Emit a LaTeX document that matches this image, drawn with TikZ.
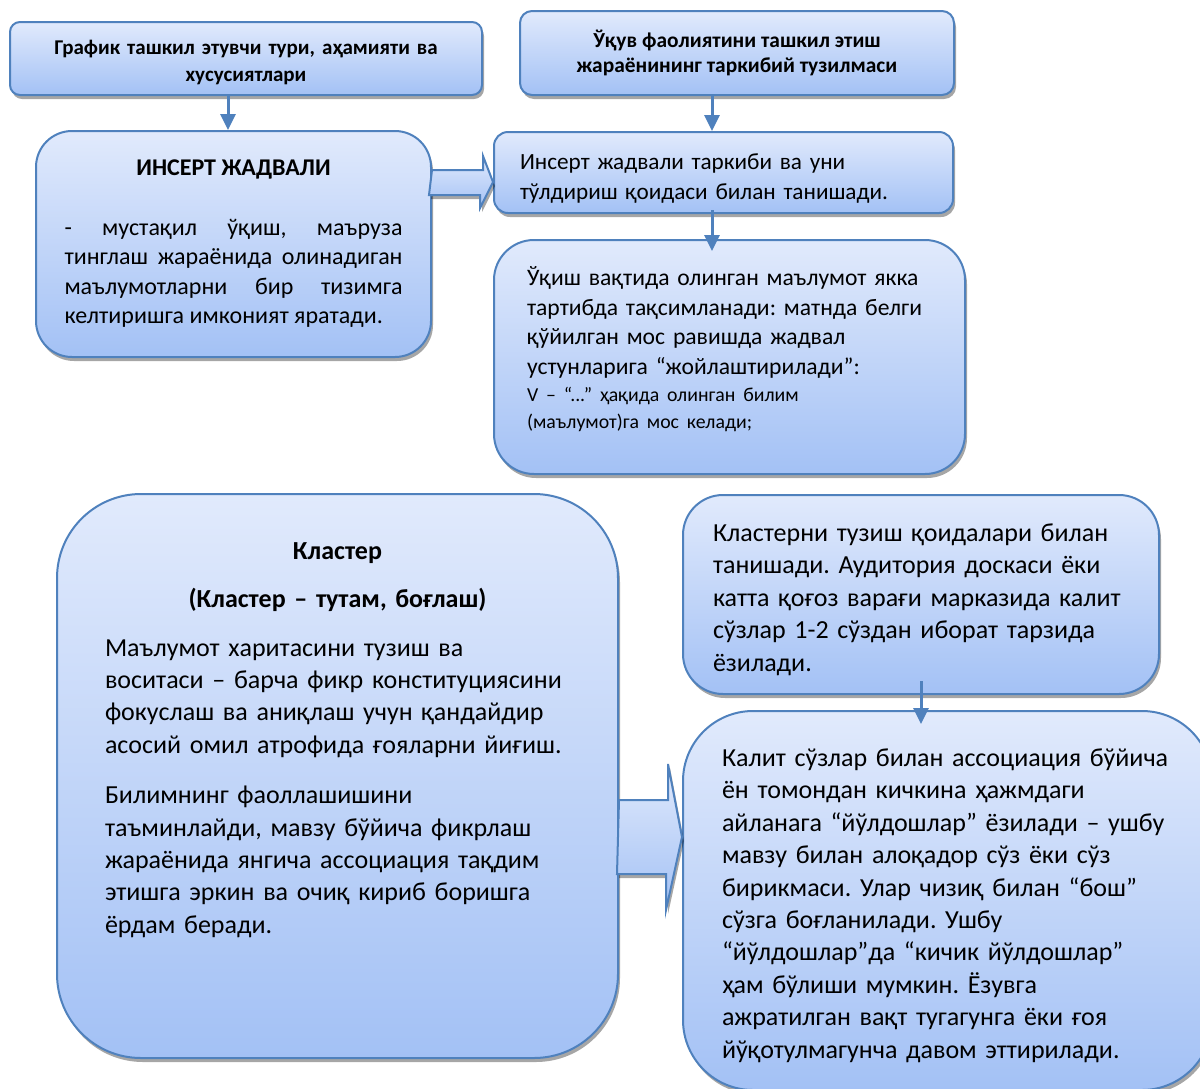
\documentclass[tikz,border=0pt]{standalone}
\usepackage{fontspec}
\setmainfont{Carlito}
\usetikzlibrary{shadows,arrows.meta,calc}
\definecolor{boxline}{RGB}{79,129,189}
\definecolor{boxtop}{RGB}{225,234,252}
\definecolor{boxbot}{RGB}{163,193,245}
\setlength{\parindent}{0pt}
\hyphenpenalty=10000
\exhyphenpenalty=10000
\frenchspacing
% extra (or less) room under the text of a box
\newcommand{\botpad}[1]{\par\vspace{#1}\nointerlineskip\null}
\tikzset{
    box/.style={draw=boxline,line width=1pt,top color=boxtop,bottom color=boxbot,
        inner sep=0pt,drop shadow={shadow xshift=1pt,shadow yshift=-2pt,opacity=.35,fill=black}},
    arr/.style={draw=boxline,line width=1.5pt,-{Triangle[width=7.5pt,length=8pt]}},
    barr/.style={draw=boxline,line width=1pt,top color=boxtop,bottom color=boxbot,
        drop shadow={shadow xshift=1pt,shadow yshift=-2pt,opacity=.35,fill=black}}
}
\begin{document}
\begin{tikzpicture}[x=0.5pt,y=-0.5pt]
    \useasboundingbox (0,0) rectangle (1200,1088);
    \coordinate (c1) at (228,0);
    \coordinate (c2) at (712,0);

    \node[box,rounded corners=5pt,minimum width=236pt,minimum height=36.5pt,text width=230pt,align=center,
        font=\fontsize{10.5}{13.5}\selectfont\bfseries] (topl) at (246,58.5)
        {График ташкил этувчи тури, аҳамияти ва\\хусусиятлари\botpad{-4pt}};
    \node[box,rounded corners=6pt,minimum width=217pt,minimum height=42pt,align=center,
        font=\fontsize{10.7}{12.5}\selectfont\bfseries] (topr) at (737,53)
        {Ўқув фаолиятини ташкил этиш\\жараёнининг таркибий тузилмаси};
    \node[box,rounded corners=18pt,minimum width=197.5pt,minimum height=113pt,text width=169pt,
        align=justify,font=\fontsize{12}{14.75}\selectfont] (ins) at (233.5,244)
        {{\centering\bfseries ИНСЕРТ ЖАДВАЛИ\par}\vspace{15pt}
        - мустақил ўқиш, маъруза\linebreak тинглаш жараёнида олинадиган\linebreak
        маълумотларни бир тизимга\linebreak келтиришга имконият яратади.\par};
    \node[box,rounded corners=7pt,minimum width=229.5pt,minimum height=40.5pt,text width=203.5pt,
        font=\fontsize{11.6}{15}\selectfont] (ict) at (723.5,172.5)
        {Инсерт жадвали таркиби ва уни\\тўлдириш қоидаси билан танишади.\botpad{-6pt}};
    \node[box,rounded corners=20pt,minimum width=235.5pt,minimum height=117pt,text width=202.5pt,
        font=\fontsize{11.8}{14.75}\selectfont] (uqish) at (729.5,357)
        {Ўқиш вақтида олинган маълумот якка\\тартибда тақсимланади: матнда белги\\
        қўйилган мос равишда жадвал\\устунларига “жойлаштирилади”:\par
        {\fontsize{9.9}{13.5}\selectfont V – “...” ҳақида олинган билим\\(маълумот)га мос келади;\par}
        \botpad{8pt}};
    \node[box,rounded corners=42pt,minimum width=280.5pt,minimum height=282pt,text width=232.5pt,
        font=\fontsize{13}{16.2}\selectfont] (klas) at (337.5,776)
        {{\centering\bfseries Кластер\par\vspace{8pt}
        (Кластер – тутам, боғлаш)\par}\vspace{8pt}
        Маълумот харитасини тузиш ва\\воситаси – барча фикр конституциясини\\
        фокуслаш ва аниқлаш учун қандайдир\\асосий омил атрофида ғояларни йиғиш.\par
        \vspace{9pt}
        Билимнинг фаоллашишини\\таъминлайди, мавзу бўйича фикрлаш\\
        жараёнида янгича ассоциация тақдим\\этишга эркин ва очиқ кириб боришга\\
        ёрдам беради.\botpad{36pt}};
    \node[box,rounded corners=20pt,minimum width=238pt,minimum height=99.5pt,text width=208pt,
        font=\fontsize{13}{16.2}\selectfont] (klrule) at (921,594.5)
        {Кластерни тузиш қоидалари билан\\танишади. Аудитория доскаси ёки\\
        катта қоғоз варағи марказида калит\\сўзлар 1-2 сўздан иборат тарзида\\ёзилади.\botpad{-5pt}};
    \node[box,rounded corners=35pt,minimum width=264.5pt,minimum height=189.5pt,text width=225.5pt,
        font=\fontsize{13}{16.2}\selectfont] (kalit) at (947.5,900.5)
        {Калит сўзлар билан ассоциация бўйича\\ён томондан кичкина ҳажмдаги\\
        айланага “йўлдошлар” ёзилади – ушбу\\мавзу билан алоқадор сўз ёки сўз\\
        бирикмаси. Улар чизиқ билан “бош”\\сўзга боғланилади. Ушбу\\
        “йўлдошлар”да “кичик йўлдошлар”\\ҳам бўлиши мумкин. Ёзувга\\
        ажратилган вақт тугагунга ёки ғоя\\йўқотулмагунча давом эттирилади.\botpad{-5pt}};

    % block arrows
    \draw[barr] (ins.east |- 0,170) -- ++(51,0) -- ++(0,-14) -- (ict.west |- 0,182)
        -- ++(-13,26) -- ++(0,-13) -- ++(-51,0) -- cycle;
    \draw[barr] (klas.east |- 0,800) -- ++(49,0) -- ++(0,-36) -- (kalit.west |- 0,837)
        -- ++(-16,73) -- ++(0,-36) -- ++(-49,0) -- cycle;

    % arrows
    \draw[arr] (topl.south -| c1) -- (ins.north -| c1);
    \draw[arr] (topr.south -| c2) -- (ict.north -| c2);
    \draw[arr,shorten <=-2pt,shorten >=-6pt] (ict.south -| c2) -- (uqish.north -| c2);
    \draw[arr,shorten <=-7pt,shorten >=-7pt] (klrule.south) -- (klrule.south |- kalit.north);
\end{tikzpicture}
\end{document}
